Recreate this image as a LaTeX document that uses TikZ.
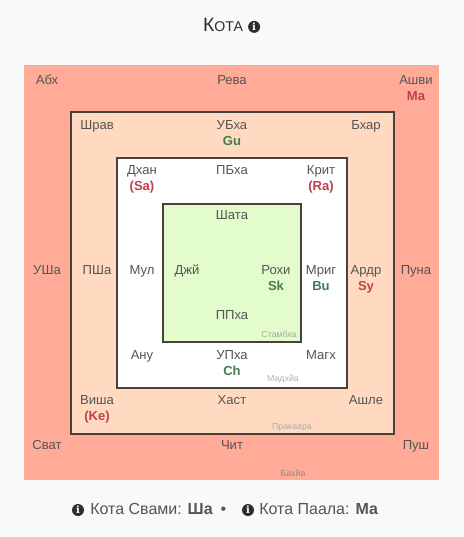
\documentclass[tikz,border=0pt]{standalone}
\usepackage{xcolor}
\usepackage{fontspec}
\setmainfont{Liberation Sans}
\newfontfamily\iconfont{DejaVu Serif}
\usetikzlibrary{positioning, calc}
\definecolor{pagebg}{RGB}{248,249,250}
\definecolor{bahyafill}{RGB}{255,171,152}
\definecolor{prakfill}{RGB}{255,218,193}
\definecolor{stamfill}{RGB}{226,252,203}
\definecolor{wallcol}{RGB}{75,65,60}
\definecolor{labcol}{RGB}{85,85,85}
\definecolor{grahred}{RGB}{190,65,75}
\definecolor{grahgreen}{RGB}{70,125,80}
\definecolor{icondark}{RGB}{45,45,45}
\newcommand{\redg}[1]{{\color{grahred}\bfseries #1}}
\newcommand{\greeng}[1]{{\color{grahgreen}\bfseries #1}}
\begin{document}
\begin{tikzpicture}[x=0.75pt, y=-0.75pt,
  wall/.style={rectangle, draw=wallcol, line width=1.2pt, anchor=north west, inner sep=0pt},
  nak/.style={font=\fontsize{9.8pt}{12.3pt}\selectfont, text=labcol, align=center, inner sep=0pt, anchor=north, yshift=-0.75pt},
  zone/.style={font=\fontsize{6.6pt}{7.5pt}\selectfont, inner sep=0pt},
  foot/.style={font=\fontsize{12pt}{14pt}\selectfont, text=labcol, inner sep=0pt, anchor=base west},
  info/.style={circle, fill=icondark, text=white, inner sep=0pt, minimum size=9pt, font=\fontsize{7.5pt}{7.5pt}\iconfont\bfseries}
]
\useasboundingbox[fill=pagebg] (0,0) rectangle (464,537);
% title
\node[inner sep=0pt, anchor=base, font=\fontsize{14.5pt}{16pt}\selectfont, text=icondark] (title) at (223,31.5) {К\fontsize{10.6pt}{16pt}\selectfont ОТА};
\node[info, right=3.5pt of title.base east, yshift=3.5pt] (titleinfo) {i};
% walls
\node[rectangle, fill=bahyafill, anchor=north west, inner sep=0pt, minimum width=311.25pt, minimum height=311.25pt] (bahya) at (24,65) {};
\node[wall, fill=prakfill, minimum width=242.25pt, minimum height=241.5pt] (prakaara) at (70,111) {};
\node[wall, fill=white, minimum width=172.5pt, minimum height=172.5pt] (madhya) at (116,157) {};
\node[wall, fill=stamfill, minimum width=103.5pt, minimum height=103.5pt] (stambha) at (162,203) {};
% bahya ring
\node[nak] (abh) at (47,74) {Абх};
\node[nak] (rev) at (232,74) {Рева};
\node[nak] (ashv) at (416,74) {Ашви\\\redg{Ма}};
\node[nak] (usha) at (47,264) {УШа};
\node[nak] (puna) at (416,264) {Пуна};
\node[nak] (svat) at (47,439) {Сват};
\node[nak] (chit) at (232,439) {Чит};
\node[nak] (push) at (416,439) {Пуш};
% prakaara ring
\node[nak] (shrav) at (97,119) {Шрав};
\node[nak] (ubha) at (232,119) {УБха\\\greeng{Gu}};
\node[nak] (bhar) at (366,119) {Бхар};
\node[nak] (psha) at (97,264) {ПШа};
\node[nak] (ardr) at (366,264) {Ардр\\\redg{Sy}};
\node[nak] (visha) at (97,394) {Виша\\\redg{(Ke)}};
\node[nak] (hast) at (232,394) {Хаст};
\node[nak] (ashl) at (366,394) {Ашле};
% madhya ring
\node[nak] (dhan) at (142,164) {Дхан\\\redg{(Sa)}};
\node[nak] (pbha) at (232,164) {ПБха};
\node[nak] (krit) at (321,164) {Крит\\\redg{(Ra)}};
\node[nak] (mul) at (142,264) {Мул};
\node[nak] (mrig) at (321,264) {Мриг\\\greeng{Bu}};
\node[nak] (anu) at (142,349) {Ану};
\node[nak] (upha) at (232,349) {УПха\\\greeng{Ch}};
\node[nak] (magh) at (321,349) {Магх};
% stambha
\node[nak] (shata) at (232,209) {Шата};
\node[nak] (jye) at (187,264) {Джй};
\node[nak] (rohi) at (276,264) {Рохи\\\greeng{Sk}};
\node[nak] (ppha) at (232,309) {ППха};
% zone names
\node[zone, text=black!35] (stamlab) at (279,334) {Стамбха};
\node[zone, text=black!30] (madlab) at (283,379) {Мадхйа};
\node[zone, text=black!33] (praklab) at (292,427) {Пракаара};
\node[zone, text=black!45] (bahlab) at (293,473) {Бахйа};
% footer
\node[info] (svinfo) at (78,510) {i};
\node[foot] (svami) at (90,514) {Кота Свами: \textbf{Ша}};
\node[inner sep=0pt, text=labcol, font=\fontsize{12pt}{14pt}\selectfont, anchor=base] (dot) at (223.5,514) {•};
\node[info] (pinfo) at (248,510) {i};
\node[foot] (paala) at (259,514) {Кота Паала: \textbf{Ма}};
\end{tikzpicture}
\end{document}
